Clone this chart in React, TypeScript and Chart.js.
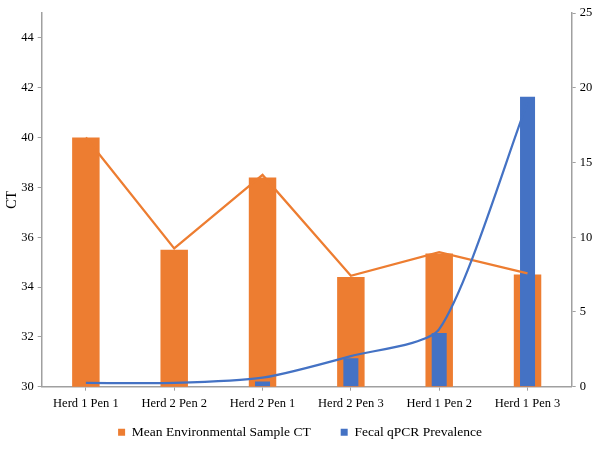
import React, { useEffect, useRef } from "react";
import { Chart, registerables } from "chart.js";

Chart.register(...registerables);

const categories = [
  "Herd 1 Pen 1",
  "Herd 2 Pen 2",
  "Herd 2 Pen 1",
  "Herd 2 Pen 3",
  "Herd 1 Pen 2",
  "Herd 1 Pen 3",
];
const ctBars = [40.0, 35.5, 38.4, 34.4, 35.35, 34.5];
const ctLine = [40.0, 35.55, 38.5, 34.45, 35.4, 34.55];
const prevalenceBars = [0, 0, 0.35, 1.9, 3.6, 19.4];
const prevalenceLine = [0.25, 0.25, 0.6, 2.05, 3.85, 19.0];
const ctAxis = { min: 30, max: 45, step: 2 };
const prevAxis = { min: 0, max: 25, step: 5 };

const ORANGE = "#ED7D31";
const BLUE = "#4472C4";
const AXIS = "#a0a0a0";
const FONT = "'Liberation Serif', 'Times New Roman', serif";
const LEGEND_PAD = 30;
const LEGEND_SHIFT = 20;

const legendTweak = {
  id: "legendTweak",
  beforeLayout(chart: any) {
    const lg = chart.legend;
    if (lg && !lg.__patched) {
      const orig = lg.fit.bind(lg);
      lg.fit = function () {
        orig();
        this.height = this.height - LEGEND_SHIFT;
      };
      lg.__patched = true;
    }
  },
  afterLayout(chart: any) {
    const lg = chart.legend;
    if (lg) {
      lg.top -= LEGEND_SHIFT;
    }
  },
};

export default function App() {
  const ref = useRef<HTMLCanvasElement | null>(null);

  useEffect(() => {
    if (!ref.current) return;
    const chart = new Chart(ref.current, {
      type: "bar",
      data: {
        labels: categories,
        datasets: [
          {
            type: "bar",
            label: "Mean Environmental Sample CT",
            data: ctBars,
            backgroundColor: ORANGE,
            borderWidth: 0,
            yAxisID: "y",
            grouped: false,
            categoryPercentage: 1,
            barPercentage: 0.311,
            order: 3,
          },
          {
            type: "bar",
            label: "Fecal qPCR Prevalence",
            data: prevalenceBars,
            backgroundColor: BLUE,
            borderWidth: 0,
            yAxisID: "y1",
            grouped: false,
            categoryPercentage: 1,
            barPercentage: 0.17,
            order: 2,
          },
          {
            type: "line",
            label: "CT line",
            data: ctLine,
            borderColor: ORANGE,
            borderWidth: 2.25,
            pointRadius: 0,
            tension: 0,
            yAxisID: "y",
            order: 1,
          },
          {
            type: "line",
            label: "Prevalence line",
            data: prevalenceLine,
            borderColor: BLUE,
            borderWidth: 2.25,
            pointRadius: 0,
            tension: 0.22,
            yAxisID: "y1",
            order: 0,
          },
        ],
      },
      plugins: [legendTweak],
      options: {
        responsive: false,
        animation: false,
        layout: { padding: { top: 13, left: 0, right: 0, bottom: 0 } },
        plugins: {
          tooltip: { enabled: false },
          legend: {
            position: "bottom",
            labels: {
              boxWidth: 7,
              boxHeight: 7,
              padding: LEGEND_PAD,
              color: "#000",
              font: { family: FONT, size: 13.5 },
              filter: (item: any) => item.datasetIndex < 2,
              sort: (a: any, b: any) => a.datasetIndex - b.datasetIndex,
            },
          },
        },
        scales: {
          x: {
            offset: true,
            grid: {
              offset: false,
              drawOnChartArea: false,
              drawTicks: true,
              tickLength: 4,
              color: AXIS,
            },
            border: { color: AXIS, width: 1.5 },
            ticks: {
              color: "#000",
              padding: 6,
              maxRotation: 0,
              autoSkip: false,
              font: { family: FONT, size: 12.5 },
            },
            afterFit: (s: any) => {
              s.height = 28.8;
            },
          },
          y: {
            position: "left",
            min: ctAxis.min,
            max: ctAxis.max,
            ticks: {
              stepSize: ctAxis.step,
              color: "#000",
              padding: 4,
              font: { family: FONT, size: 12.5 },
            },
            afterBuildTicks: (s: any) => {
              s.ticks = s.ticks.filter((t: any) => t.value !== ctAxis.max);
            },
            grid: {
              drawOnChartArea: false,
              tickLength: 4,
              color: AXIS,
            },
            border: { color: AXIS, width: 1.5 },
            title: {
              display: true,
              text: "CT",
              color: "#000",
              font: { family: FONT, size: 14 },
              padding: { top: 4, bottom: 0 },
            },
            afterFit: (s: any) => {
              s.width = 41.7;
            },
          },
          y1: {
            position: "right",
            min: prevAxis.min,
            max: prevAxis.max,
            ticks: {
              stepSize: prevAxis.step,
              color: "#000",
              padding: 4,
              font: { family: FONT, size: 12.5 },
            },
            grid: {
              drawOnChartArea: false,
              tickLength: 4,
              color: AXIS,
            },
            border: { color: AXIS, width: 1.5 },
            afterFit: (s: any) => {
              s.width = 28.3;
            },
          },
        },
      },
    });
    return () => chart.destroy();
  }, []);

  return (
    <div style={{ position: "fixed", left: 0, top: 0, width: 600, height: 449, background: "#fff" }}>
      <canvas ref={ref} width={600} height={449} />
    </div>
  );
}
